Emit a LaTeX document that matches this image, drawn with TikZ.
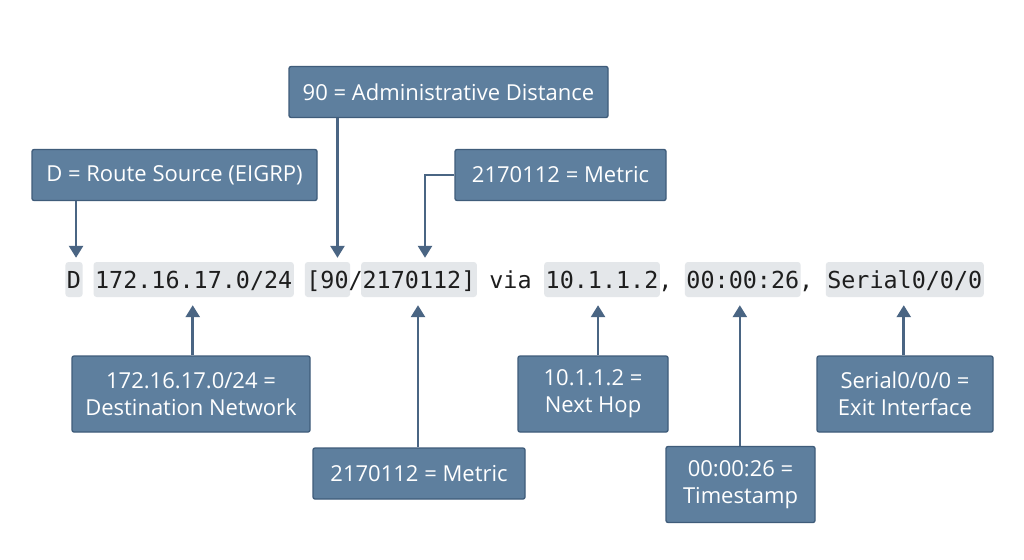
\documentclass[tikz,border=0pt]{standalone}
\usepackage{fontspec}
\setmainfont{Open Sans}
\newfontfamily\codefont{DejaVu Sans Mono}
\usetikzlibrary{arrows.meta,calc}
\definecolor{boxfill}{HTML}{5E7F9E}
\definecolor{boxedge}{HTML}{3F5C7A}
\definecolor{conncol}{HTML}{4A6583}
\definecolor{hlfill}{HTML}{E4E7EA}
\definecolor{codecol}{HTML}{1E1E1E}
\tikzset{
  infobox/.style={draw=boxedge, line width=1.3pt, fill=boxfill, rounded corners=2pt,
    text=white, font=\fontsize{22}{27}\selectfont, align=center, inner sep=0pt},
  tok/.style={anchor=base, inner xsep=1.5pt, inner ysep=5pt, text height=21pt, text depth=4pt,
    font=\codefont\fontsize{23.4}{28}\selectfont, text=codecol},
  hl/.style={tok, fill=hlfill, rounded corners=3pt},
  conn/.style={draw=conncol, line width=2.6pt, -{Triangle[width=14pt,length=12pt]}},
}
\begin{document}
\begin{tikzpicture}[x=1pt,y=-1pt]
\useasboundingbox (0,0) rectangle (1024,559);
\fill[white] (0,0) rectangle (1024,559);
\def\cw{14.08}
\def\bl{288}
% route line tokens
\node[hl] (tD)   at ({67+(0+0.5)*\cw},\bl) {D};
\node[hl] (tnet) at ({67+(2+7)*\cw},\bl) {172.16.17.0/24};
\node[hl] (tad)  at ({67+(17+1.5)*\cw},\bl) {[90};
\node[tok] (tsl) at ({67+(20+0.5)*\cw},\bl) {/};
\node[hl] (tmet) at ({67+(21+4)*\cw},\bl) {2170112]};
\node[tok] (tvia) at ({67+(30+1.5)*\cw},\bl) {via};
\node[hl] (thop) at ({67+(34+4)*\cw},\bl) {10.1.1.2};
\node[tok] (tc1) at ({67+(42+0.5)*\cw},\bl) {,};
\node[hl] (tts)  at ({67+(44+4)*\cw},\bl) {00:00:26};
\node[tok] (tc2) at ({67+(52+0.5)*\cw},\bl) {,};
\node[hl] (tser) at ({67+(54+5.5)*\cw},\bl) {Serial0/0/0};
% boxes
\node[infobox, minimum width=319pt, minimum height=51pt] (adm)  at (448.5,92) {90 = Administrative Distance};
\node[infobox, minimum width=285pt, minimum height=51pt] (src)  at (174.5,175) {D = Route Source (EIGRP)};
\node[infobox, minimum width=211pt, minimum height=51pt] (mtop) at (560.5,175) {2170112 = Metric};
\node[infobox, minimum width=238pt, minimum height=76pt] (dst)  at (191,394) {172.16.17.0/24 =\\Destination Network};
\node[infobox, minimum width=212pt, minimum height=51pt] (mbot) at (419,473.5) {2170112 = Metric};
\node[infobox, minimum width=150pt, minimum height=76pt] (hop)  at (593,394) {10.1.1.2 =\\Next Hop};
\node[infobox, minimum width=149pt, minimum height=76pt] (ts)   at (740.5,484.5) {00:00:26 =\\Timestamp};
\node[infobox, minimum width=176pt, minimum height=76pt] (ser)  at (905,394) {Serial0/0/0 =\\Exit Interface};
% connector targets
\coordinate (aD)   at ([xshift=2pt]tD.north);
\coordinate (aAd)  at ([xshift=10pt]tad.north);
\coordinate (aMt)  at ([xshift=6pt]tmet.north);
\coordinate (aNet) at ([xshift=-1pt]tnet.south);
\coordinate (aMb)  at ([xshift=-1pt]tmet.south);
\coordinate (aHop) at ([xshift=-4pt]thop.south);
\coordinate (aTs)  at ([xshift=-3pt]tts.south);
\coordinate (aSer) at ([xshift=-1pt]tser.south);
% connectors
\draw[conn, shorten >=4pt] (aD |- src.south) -- (aD);
\draw[conn, shorten >=4pt] (aAd |- adm.south) -- (aAd);
\draw[conn, shorten >=4pt] (mtop.west) -| (aMt);
\draw[conn, shorten >=8pt] (aNet |- dst.north) -- (aNet);
\draw[conn, shorten >=8pt] (aMb |- mbot.north) -- (aMb);
\draw[conn, shorten >=8pt] (aHop |- hop.north) -- (aHop);
\draw[conn, shorten >=8pt] (aTs |- ts.north) -- (aTs);
\draw[conn, shorten >=8pt] (aSer |- ser.north) -- (aSer);
\end{tikzpicture}
\end{document}
